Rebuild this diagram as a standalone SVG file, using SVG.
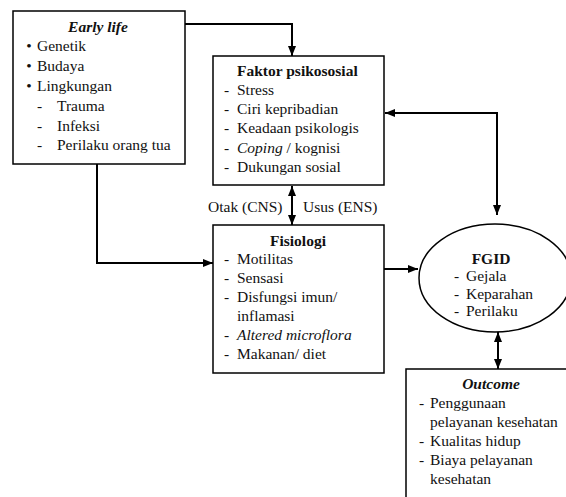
<svg xmlns="http://www.w3.org/2000/svg" width="566" height="497" viewBox="0 0 566 497" font-family="Liberation Serif, serif" font-size="15.5">
<defs>
<marker id="ah" viewBox="0 0 10 8" refX="10" refY="4" markerWidth="10" markerHeight="8" markerUnits="userSpaceOnUse" orient="auto-start-reverse">
<path d="M0,0 L10,4 L0,8 Z" fill="#000"/>
</marker>
</defs>
<style>
text{fill:#111}
.b{font-weight:bold}
.i{font-style:italic}
.m{text-anchor:middle}
.box{fill:#fff;stroke:#000;stroke-width:1.5}
.ln{fill:none;stroke:#000;stroke-width:2}
</style>
<rect width="566" height="497" fill="#fff"/>
<g id="connectors" font-family="Liberation Serif, serif">
<path class="ln" d="M185,24 H292 V56" marker-end="url(#ah)"/>
<path class="ln" d="M97,164 V263 H213" marker-end="url(#ah)"/>
<path class="ln" d="M292,186 V225" marker-start="url(#ah)" marker-end="url(#ah)"/>
<path class="ln" d="M385,113 H497 V215" marker-start="url(#ah)" marker-end="url(#ah)"/>
<path class="ln" d="M384,269 H418" marker-end="url(#ah)"/>
<path class="ln" d="M498,332 V369" marker-start="url(#ah)" marker-end="url(#ah)"/>
<text x="208" y="212">Otak (CNS)</text>
<text x="303" y="212">Usus (ENS)</text>
</g>
<g id="early-life" font-family="Liberation Serif, serif">
<rect class="box" x="13" y="11" width="172" height="153"/>
<text class="b i m" x="98" y="32">Early life</text>
<text class="m" x="29" y="51">•</text><text x="37" y="51">Genetik</text>
<text class="m" x="29" y="71">•</text><text x="37" y="71">Budaya</text>
<text class="m" x="29" y="91">•</text><text x="37" y="91">Lingkungan</text>
<text x="37" y="111">-</text><text x="57" y="111">Trauma</text>
<text x="37" y="131">-</text><text x="57" y="131">Infeksi</text>
<text x="37" y="150">-</text><text x="57" y="150">Perilaku orang tua</text>
</g>
<g id="faktor-psikososial" font-family="Liberation Serif, serif">
<rect class="box" x="213" y="56" width="171" height="129"/>
<text class="b" x="237" y="76">Faktor psikososial</text>
<text x="224" y="95">-</text><text x="237" y="95">Stress</text>
<text x="224" y="114">-</text><text x="237" y="114">Ciri kepribadian</text>
<text x="224" y="133">-</text><text x="237" y="133">Keadaan psikologis</text>
<text x="224" y="153">-</text><text x="237" y="153"><tspan class="i">Coping</tspan> / kognisi</text>
<text x="224" y="172">-</text><text x="237" y="172">Dukungan sosial</text>
</g>
<g id="fisiologi" font-family="Liberation Serif, serif">
<rect class="box" x="213" y="225" width="171" height="148"/>
<text class="b m" x="298" y="246">Fisiologi</text>
<text x="224" y="264">-</text><text x="237" y="264">Motilitas</text>
<text x="224" y="283">-</text><text x="237" y="283">Sensasi</text>
<text x="224" y="302">-</text><text x="237" y="302">Disfungsi imun/</text>
<text x="237" y="321">inflamasi</text>
<text x="224" y="340">-</text><text x="237" y="340" class="i">Altered microflora</text>
<text x="224" y="359">-</text><text x="237" y="359">Makanan/ diet</text>
</g>
<g id="fgid" font-family="Liberation Serif, serif">
<ellipse class="box" cx="495" cy="278" rx="76" ry="54"/>
<text class="b m" x="491" y="264">FGID</text>
<text x="454" y="281">-</text><text x="466" y="281">Gejala</text>
<text x="454" y="299">-</text><text x="466" y="299">Keparahan</text>
<text x="454" y="316">-</text><text x="466" y="316">Perilaku</text>
</g>
<g id="outcome" font-family="Liberation Serif, serif">
<rect class="box" x="406" y="369" width="170" height="140"/>
<text class="b i m" x="491" y="389">Outcome</text>
<text x="419" y="408">-</text><text x="430" y="408">Penggunaan</text>
<text x="430" y="427">pelayanan kesehatan</text>
<text x="419" y="446">-</text><text x="430" y="446">Kualitas hidup</text>
<text x="419" y="465">-</text><text x="430" y="465">Biaya pelayanan</text>
<text x="430" y="484">kesehatan</text>
</g>
</svg>
